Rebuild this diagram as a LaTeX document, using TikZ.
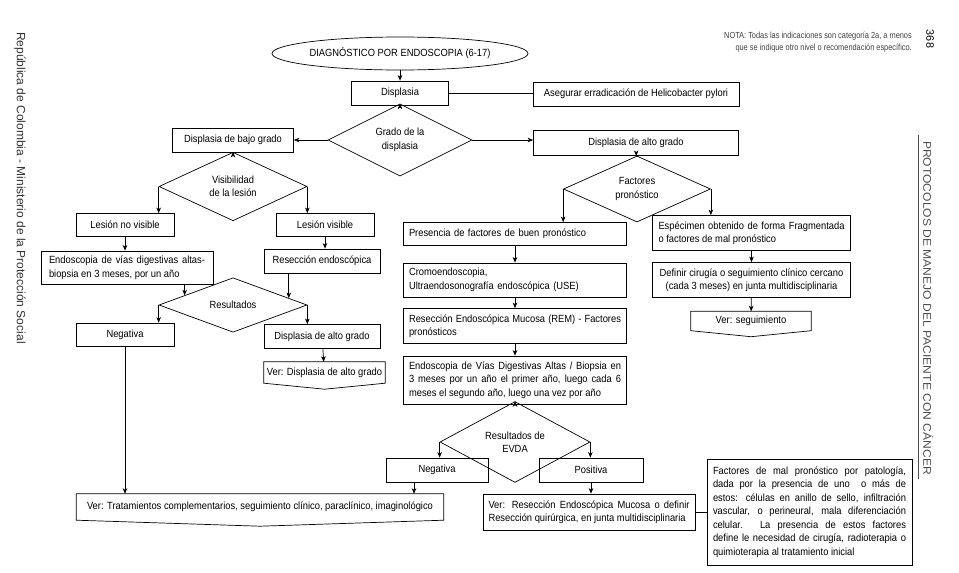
\documentclass[tikz,border=0pt]{standalone}
\usepackage{fontspec}
\setmainfont{Liberation Sans}
\newfontfamily\flowfont{Liberation Sans}[FakeStretch=0.9]
\newfontfamily\notafont{Liberation Sans}[FakeStretch=0.84]
\newfontfamily\sidefont{Liberation Sans}[FakeStretch=1.1]
\usetikzlibrary{shapes.geometric,arrows.meta,calc}

\begin{document}
\begin{tikzpicture}[x=1pt,y=-1pt,
    every node/.style={font=\flowfont\fontsize{10.4}{13.5}\selectfont},
    caja/.style={draw,line width=0.7pt,inner xsep=5pt,inner ysep=2pt},
    cajatexto/.style={caja,inner xsep=5.5pt,align=justify},
    rombo/.style={draw,diamond,line width=0.7pt,inner sep=0pt,align=center},
    flecha/.style={line width=0.7pt,-{Stealth[length=5.5pt,width=4.5pt,inset=1.5pt]}},
    linea/.style={line width=0.7pt}]
  \useasboundingbox (0,0) rectangle (959,573);

  \node[rotate=-90,font=\fontsize{12}{14}\selectfont,text=black!80] (pais) at (20,188) {República de Colombia - Ministerio de la Protección Social};
  \node[rotate=-90,font=\fontsize{10.8}{13}\selectfont] (pagina) at (930,39) {368};
  \node[rotate=-90,font=\sidefont\fontsize{11}{13}\selectfont,text=black!70] (titulo) at (928,308) {PROTOCOLOS DE MANEJO DEL PACIENTE CON CÁNCER};
  \draw[line width=0.5pt,black!70] (918,135) -- (918,479);
  \node[anchor=east,align=right,inner sep=0pt,font=\notafont\fontsize{8.8}{12.5}\selectfont,text=black!75] (nota) at (912,42) {NOTA: Todas las indicaciones son categoría 2a, a menos\\que se indique otro nivel o recomendación específico.};

  \node[draw,ellipse,line width=0.7pt,minimum width=210pt,minimum height=33pt,inner sep=0pt] (diag) at (400,53.5) {DIAGNÓSTICO POR ENDOSCOPIA (6-17)};
  \node[caja,minimum width=97pt,minimum height=24pt] (disp) at (400,93) {Displasia};
  \node[caja,minimum width=206pt,minimum height=24pt] (aseg) at (636,94) {Asegurar erradicación de Helicobacter pylori};
  \node[rombo,minimum width=144pt,minimum height=46pt] (grado) at (400,140) {Grado de la\\displasia};
  \node[caja,minimum width=121pt,minimum height=24pt] (bajo) at (233,140) {Displasia de bajo grado};
  \node[caja,minimum width=205pt,minimum height=25pt] (alto) at (636,142.5) {Displasia de alto grado};

  \node[rombo,minimum width=148pt,minimum height=47pt] (visib) at (233,186.5) {Visibilidad\\de la lesión};
  \node[caja,minimum width=98pt,minimum height=23pt] (novis) at (125,225) {Lesión no visible};
  \node[caja,minimum width=98pt,minimum height=23pt] (sivis) at (325,225) {Lesión visible};
  \node[cajatexto,inner xsep=8pt,text width=156pt,minimum height=33pt] (endoa) at (127,267.5) {Endoscopia de vías digestivas altas-\linebreak biopsia en 3 meses, por un año};
  \node[caja,minimum width=116pt,minimum height=24pt] (resec) at (322,261) {Resección endoscópica};
  \node[rombo,minimum width=148pt,minimum height=35pt] (result) at (233,305) {Resultados};
  \node[caja,minimum width=98pt,minimum height=23pt] (nega) at (125,334.5) {Negativa};
  \node[caja,minimum width=116pt,minimum height=24pt] (altob) at (322,336.5) {Displasia de alto grado};
  \node[minimum width=121pt,minimum height=21pt,inner sep=0pt] (verdis) at (324.5,372.5) {Ver: Displasia de alto grado};
  \node[minimum width=367pt,minimum height=26pt,inner sep=0pt] (vertra) at (260,507) {Ver: Tratamientos complementarios, seguimiento clínico, paraclínico, imaginológico};

  \node[rombo,minimum width=147pt,minimum height=50pt] (factor) at (637,189) {Factores\\pronóstico};
  \node[cajatexto,align=left,text width=212pt,minimum height=23pt] (buen) at (515,234) {Presencia de factores de buen pronóstico};
  \node[cajatexto,align=left,text width=212pt,minimum height=34pt] (cromo) at (515,280) {Cromoendoscopia,\\Ultraendosonografía endoscópica (USE)};
  \node[cajatexto,text width=212pt,minimum height=35pt] (rem) at (515,326) {Resección Endoscópica Mucosa (REM) - Factores\linebreak pronósticos};
  \node[cajatexto,text width=212pt,minimum height=48pt] (endob) at (515,380) {Endoscopia de Vías Digestivas Altas / Biopsia en\linebreak 3 meses por un año el primer año, luego cada 6\linebreak meses el segundo año, luego una vez por año};
  \node[rombo,minimum width=150pt,minimum height=52pt] (evda) at (515,442) {Resultados de\\EVDA};
  \node[caja,minimum width=102pt,minimum height=24pt] (negb) at (437,470) {Negativa};
  \node[caja,minimum width=104pt,minimum height=24pt] (posit) at (591,470) {Positiva};
  \node[cajatexto,text width=201pt,minimum height=36pt] (verres) at (589,512) {Ver: Resección Endoscópica Mucosa o definir\linebreak Resección quirúrgica, en junta multidisciplinaria};
  \node[cajatexto,inner xsep=6pt,text width=193pt,minimum height=106pt] (mal) at (809.5,512) {Factores de mal pronóstico por patología,\linebreak dada por la presencia de uno~ o más de\linebreak estos: células en anillo de sello, infiltración\linebreak vascular, o perineural, mala diferenciación\linebreak celular. La presencia de estos factores\linebreak define le necesidad de cirugía, radioterapia o\linebreak quimioterapia al tratamiento inicial};

  \node[cajatexto,inner xsep=6pt,text width=186pt,minimum height=35pt] (espec) at (751.5,233) {Espécimen obtenido de forma Fragmentada\linebreak o factores de mal pronóstico};
  \node[caja,align=center,minimum width=198pt,minimum height=35pt] (defin) at (751.5,280) {Definir cirugía o seguimiento clínico cercano\\(cada 3 meses) en junta multidisciplinaria};
  \node[minimum width=120pt,minimum height=19pt,inner sep=0pt] (verseg) at (751,321) {Ver: seguimiento};

  \draw[flecha] (diag) -- (disp);
  \draw[linea] (disp.east) -- (disp.east -| aseg.west);
  \draw[flecha] (disp) -- (grado);
  \draw[flecha] (grado) -- (bajo);
  \draw[flecha] (grado.east) -- (grado.east -| alto.west);
  \draw[flecha] (bajo) -- (visib);
  \draw[flecha] (visib.west) -- (visib.west |- novis.north);
  \draw[flecha] (visib.east) -- (visib.east |- sivis.north);
  \draw[flecha] (novis.south) -- (novis.south |- endoa.north);
  \draw[flecha] (sivis.south) -- (sivis.south |- resec.north);
  \coordinate (entra1) at ($(result.north)!0.65!(result.west)$);
  \coordinate (entra2) at ($(result.north)!0.75!(result.east)$);
  \draw[flecha] (endoa.south -| entra1) -- (entra1);
  \draw[flecha] (resec.south -| entra2) -- (entra2);
  \draw[flecha] (result.west) -- (result.west |- nega.north);
  \draw[flecha] (result.east) -- (result.east |- altob.north);
  \draw[flecha] (altob) -- (verdis);
  \draw[flecha] (nega.south) -- (nega.south |- vertra.north);

  \draw[flecha] (alto) -- (factor);
  \draw[flecha] (factor.west) -- (factor.west |- buen.north);
  \draw[flecha] (factor.east) -- (factor.east |- espec.north);
  \draw[flecha] (buen) -- (cromo);
  \draw[flecha] (cromo) -- (rem);
  \draw[flecha] (rem) -- (endob);
  \draw[flecha] (endob) -- (evda);
  \draw[flecha] (evda.west) -- (evda.west |- negb.north);
  \draw[flecha] (evda.east) -- (evda.east |- posit.north);
  \coordinate (negsal) at ([xshift=-23pt]negb.south);
  \draw[flecha] (negsal) -- (negsal |- vertra.north);
  \draw[flecha] (posit.south) -- (posit.south |- verres.north);
  \draw[linea] (verres.east) -- (verres.east -| mal.west);
  \draw[flecha] (espec) -- (defin);
  \draw[flecha] (defin) -- (verseg);

  \foreach \n in {verdis,verseg,vertra}
    \draw[linea] (\n.north west) -- (\n.north east) -- (\n.south east) -- ([yshift=-6pt]\n.south) -- (\n.south west) -- cycle;
\end{tikzpicture}
\end{document}
